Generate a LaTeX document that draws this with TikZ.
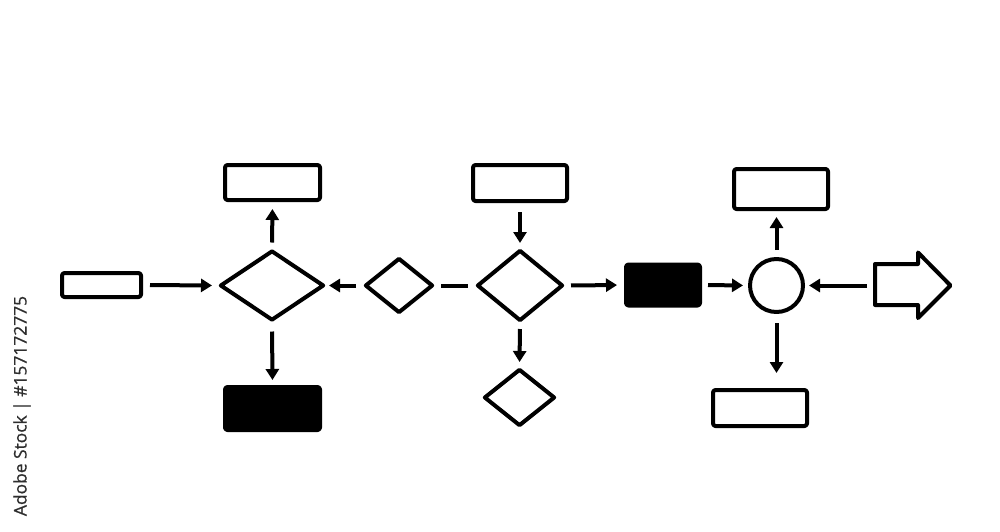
\documentclass[tikz,border=0pt]{standalone}
\usepackage{fontspec}
\newfontfamily\wmfont[FakeBold=0.8]{Open Sans}
\usetikzlibrary{shapes.geometric,arrows.meta}
\newcommand\pxu{0.02cm}
\tikzset{
  lw/.style={line width=4*\pxu, line join=round},
  box/.style={lw, draw, rectangle, rounded corners=2.5*\pxu, inner sep=0pt},
  fbox/.style={box, fill=black},
  dia/.style={lw, draw, diamond, inner sep=0pt},
  circ/.style={lw, draw, circle, inner sep=0pt},
  arr/.style={lw, -{Triangle[length=11*\pxu, width=13*\pxu]}},
  link/.style={lw}
}
\begin{document}
\begin{tikzpicture}[x=0.02cm, y=-0.02cm]
\useasboundingbox (0,0) rectangle (1000,531);
% nodes
\node[box, minimum width=79*\pxu, minimum height=24*\pxu] (r1) at (101.5,285) {};
\node[dia, minimum width=104*\pxu, minimum height=70*\pxu] (d1) at (272,285.5) {};
\node[box, minimum width=95*\pxu, minimum height=35*\pxu] (t1) at (272.5,182.5) {};
\node[fbox, minimum width=95*\pxu, minimum height=43*\pxu] (b1) at (272.5,408.5) {};
\node[dia, minimum width=68*\pxu, minimum height=55*\pxu] (d2) at (399,285.5) {};
\node[dia, minimum width=86*\pxu, minimum height=71*\pxu] (d3) at (520,285.5) {};
\node[box, minimum width=94*\pxu, minimum height=36*\pxu] (t2) at (520,183) {};
\node[dia, minimum width=71*\pxu, minimum height=57*\pxu] (d4) at (519.5,397.5) {};
\node[fbox, minimum width=74*\pxu, minimum height=41*\pxu] (f2) at (663,285) {};
\node[circ, minimum size=53*\pxu] (c) at (776.5,285.5) {};
\node[box, minimum width=94*\pxu, minimum height=40*\pxu] (t3) at (781,189) {};
\node[box, minimum width=94*\pxu, minimum height=36*\pxu] (b3) at (760,408) {};
% big arrow
\draw[lw] (875,264) -- (918,264) -- (918,252.5) -- (950.5,285.5) -- (918,318) -- (918,305) -- (875,305) -- cycle;
\coordinate (ba) at (873,285.5);
% connectors
\draw[arr, shorten <=7*\pxu, shorten >=6*\pxu] (r1.east) -- (d1.west);
\draw[arr, shorten <=6*\pxu, shorten >=7*\pxu] (d1.north) -- (t1.south);
\draw[arr, shorten <=9*\pxu, shorten >=5*\pxu] (d1.south) -- (b1.north);
\draw[arr, shorten <=7*\pxu, shorten >=3*\pxu] (d2.west) -- (d1.east);
\draw[link, shorten <=6*\pxu, shorten >=7*\pxu] (d2.east) -- (d3.west);
\draw[arr, shorten <=9*\pxu, shorten >=5*\pxu] (t2.south) -- (d3.north);
\draw[arr, shorten <=6*\pxu, shorten >=5*\pxu] (d3.south) -- (d4.north);
\draw[arr, shorten <=6*\pxu, shorten >=7*\pxu] (d3.east) -- (f2.west);
\draw[arr, shorten <=6*\pxu, shorten >=5*\pxu] (f2.east) -- (c.west);
\draw[arr, shorten <=7*\pxu, shorten >=6*\pxu] (c.north) -- (c.north |- t3.south);
\draw[arr, shorten <=9*\pxu, shorten >=15*\pxu] (c.south) -- (c.south |- b3.north);
\draw[arr, shorten <=6*\pxu, shorten >=4*\pxu] (ba) -- (c.east);
% side label
\node[rotate=90, text=black!82, font=\wmfont\fontsize{9.9}{12}\selectfont, inner sep=0pt] (wm) at (22,406) {Adobe Stock | \#157172775};
\end{tikzpicture}
\end{document}
